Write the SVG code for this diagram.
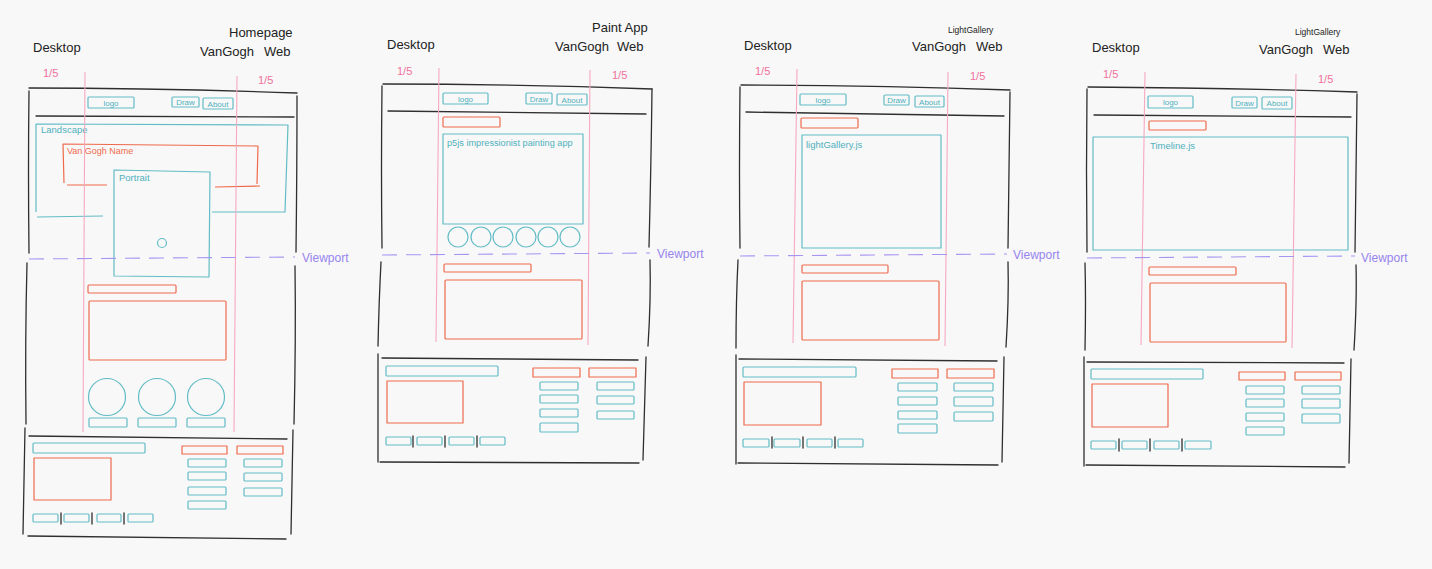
<svg xmlns="http://www.w3.org/2000/svg" width="1432" height="569" viewBox="0 0 1432 569">
<style>
.k{stroke:#2f2f2f;fill:none;stroke-width:1.3;stroke-linecap:round}
.t{stroke:#62bcc6;fill:none;stroke-width:1.2;stroke-linejoin:round}
.r{stroke:#ef6a4c;fill:none;stroke-width:1.2;stroke-linejoin:round}
.p{stroke:#f6a9c0;fill:none;stroke-width:1.1}
.v{stroke:#a596f2;fill:none;stroke-width:1.1;stroke-dasharray:15 9}
text{font-family:"Liberation Sans","DejaVu Sans",sans-serif}
.hd{font-size:13px;fill:#222}
.hs{font-size:8.5px;fill:#222}
.fr{font-size:11px;fill:#f0709c}
.vp{font-size:12px;fill:#9684ee}
.tt{font-size:8px;fill:#4fb0bc}
.tl{font-size:9.5px;fill:#4fb0bc}
.tp{font-size:9.2px;fill:#4fb0bc}
.rl{font-size:9px;fill:#ef6a4c}
</style>
<rect x="0" y="0" width="1432" height="569" fill="#f8f8f8"/>

<!-- ================= PANEL 1: Homepage ================= -->
<g id="p1-labels">
<text class="hd" x="33" y="52">Desktop</text>
<text class="hd" x="229" y="37">Homepage</text>
<text class="hd" x="200" y="56">VanGogh</text>
<text class="hd" x="264" y="56">Web</text>
<text class="fr" x="43" y="77">1/5</text>
<text class="fr" x="258" y="84">1/5</text>
</g>
<g id="p1-frame">
<path class="k" d="M29,88 Q160,88 297,93"/>
<path class="k" d="M29,91 Q28,170 29,253"/>
<path class="k" d="M297,96 Q297,170 296,252"/>
<path class="k" d="M36,116 L294,117"/>
<path class="k" d="M27,263 Q25,340 26,424"/>
<path class="k" d="M295,266 Q296,340 294,424"/>
</g>
<g id="p1-nav">
<rect class="t" x="88" y="97" width="46" height="11" rx="1"/>
<text class="tt" x="111" y="105.5" text-anchor="middle">logo</text>
<rect class="t" x="172" y="97" width="27" height="10" rx="1"/>
<text class="tt" x="185.5" y="105" text-anchor="middle">Draw</text>
<rect class="t" x="203" y="98" width="30" height="11" rx="1"/>
<text class="tt" x="218" y="106.5" text-anchor="middle">About</text>
</g>
<g id="p1-landscape">
<path class="t" d="M103,216 L37,217 M36,212 L36,124 L288,125 L285,212 L212,212"/>
<text class="tl" x="41" y="133">Landscape</text>
</g>
<g id="p1-name">
<path class="r" d="M107,185 L67,185 M64,183 L63,144 L258,146 L257,184 M215,187 L260,186"/>
<text class="rl" x="67" y="154">Van Gogh Name</text>
</g>
<g id="p1-portrait">
<path class="t" d="M114,170 L210,172 L209,277 L114,276 Z"/>
<text class="tl" x="119" y="181">Portrait</text>
<circle class="t" cx="162" cy="243" r="4.5"/>
</g>
<g id="p1-content">
<rect class="r" x="88" y="285" width="88" height="8" rx="1"/>
<rect class="r" x="89" y="301" width="137" height="59" rx="1"/>
<circle class="t" cx="107" cy="397" r="18.5"/>
<circle class="t" cx="157" cy="397" r="18.5"/>
<circle class="t" cx="206" cy="397" r="18.5"/>
<rect class="t" x="89" y="418" width="38" height="9" rx="1"/>
<rect class="t" x="138" y="418" width="38" height="9" rx="1"/>
<rect class="t" x="187" y="418" width="38" height="9" rx="1"/>
</g>
<g id="p1-footer">
<path class="k" d="M29,436 L287,439 M25,428 L23,534 M293,430 L291,534 M28,536 L286,539"/>
<rect class="t" x="33" y="443" width="112" height="10" rx="1"/>
<rect class="r" x="34" y="458" width="77" height="42"/>
<rect class="r" x="182" y="446" width="45" height="8"/>
<rect class="r" x="237" y="446" width="46" height="8"/>
<rect class="t" x="188" y="459" width="38" height="8" rx="1"/>
<rect class="t" x="188" y="472" width="38" height="8" rx="1"/>
<rect class="t" x="188" y="487" width="38" height="8" rx="1"/>
<rect class="t" x="188" y="501" width="38" height="8" rx="1"/>
<rect class="t" x="244" y="459" width="38" height="8" rx="1"/>
<rect class="t" x="244" y="473" width="38" height="8" rx="1"/>
<rect class="t" x="244" y="488" width="38" height="8" rx="1"/>
<rect class="t" x="33" y="514" width="25" height="8" rx="1"/>
<rect class="t" x="64" y="514" width="25" height="8" rx="1"/>
<rect class="t" x="97" y="514" width="24" height="8" rx="1"/>
<rect class="t" x="128" y="514" width="25" height="8" rx="1"/>
<path class="k" d="M61,513 L61,524 M92,513 L92,524 M124,513 L124,524"/>
</g>

<!-- ================= PANEL 2: Paint App ================= -->
<g id="p2-labels">
<text class="hd" x="387" y="49">Desktop</text>
<text class="hd" x="592" y="32">Paint App</text>
<text class="hd" x="555" y="51">VanGogh</text>
<text class="hd" x="617" y="51">Web</text>
<text class="fr" x="397" y="75">1/5</text>
<text class="fr" x="612" y="79">1/5</text>
</g>
<g id="p2-frame">
<path class="k" d="M383,84 Q520,84 652,89"/>
<path class="k" d="M382,86 Q381,170 382,248"/>
<path class="k" d="M652,89 Q651,170 649,247"/>
<path class="k" d="M388,111 L646,114"/>
<path class="k" d="M381,262 Q379,300 378,346"/>
<path class="k" d="M650,260 Q651,300 648,346"/>
</g>
<g id="p2-nav">
<rect class="t" x="443" y="93" width="45" height="11" rx="1"/>
<text class="tt" x="465.5" y="101.5" text-anchor="middle">logo</text>
<rect class="t" x="526" y="93" width="26" height="11" rx="1"/>
<text class="tt" x="539" y="101.5" text-anchor="middle">Draw</text>
<rect class="t" x="557" y="94" width="30" height="11" rx="1"/>
<text class="tt" x="572" y="102.5" text-anchor="middle">About</text>
</g>
<g id="p2-app">
<rect class="r" x="443" y="117" width="57" height="10" rx="1"/>
<rect class="t" x="443" y="134" width="140" height="90"/>
<text class="tp" x="447" y="146">p5js impressionist painting app</text>
<circle class="t" cx="458" cy="237" r="10"/>
<circle class="t" cx="481" cy="237" r="10"/>
<circle class="t" cx="503" cy="237" r="10"/>
<circle class="t" cx="526" cy="237" r="10"/>
<circle class="t" cx="548" cy="237" r="10"/>
<circle class="t" cx="570" cy="237" r="10"/>
</g>
<g id="p2-content">
<rect class="r" x="444" y="264" width="87" height="8" rx="1"/>
<rect class="r" x="445" y="280" width="137" height="59" rx="1"/>
</g>
<g id="p2-footer">
<path class="k" d="M382,358 L638,360 M378,354 L378,462 M646,357 L643,460 M380,462 L639,463"/>
<rect class="t" x="386" y="366" width="112" height="10" rx="1"/>
<rect class="r" x="387" y="381" width="76" height="42"/>
<rect class="r" x="533" y="368" width="47" height="9"/>
<rect class="r" x="589" y="368" width="47" height="9"/>
<rect class="t" x="540" y="382" width="38" height="8" rx="1"/>
<rect class="t" x="540" y="395" width="38" height="8" rx="1"/>
<rect class="t" x="540" y="409" width="38" height="8" rx="1"/>
<rect class="t" x="540" y="423" width="38" height="9" rx="1"/>
<rect class="t" x="597" y="382" width="37" height="8" rx="1"/>
<rect class="t" x="597" y="396" width="37" height="8" rx="1"/>
<rect class="t" x="597" y="411" width="37" height="8" rx="1"/>
<rect class="t" x="386" y="437" width="25" height="8" rx="1"/>
<rect class="t" x="417" y="437" width="25" height="8" rx="1"/>
<rect class="t" x="449" y="437" width="25" height="8" rx="1"/>
<rect class="t" x="480" y="437" width="25" height="8" rx="1"/>
<path class="k" d="M413,436 L413,447 M445,436 L445,447 M477,436 L477,447"/>
</g>

<!-- ================= PANEL 3: LightGallery ================= -->
<g id="p3-labels">
<text class="hd" x="744" y="50">Desktop</text>
<text class="hs" x="948" y="33">LightGallery</text>
<text class="hd" x="912" y="51">VanGogh</text>
<text class="hd" x="976" y="51">Web</text>
<text class="fr" x="755" y="75">1/5</text>
<text class="fr" x="970" y="80">1/5</text>
</g>
<g id="p3-frame">
<path class="k" d="M741,85 Q880,85 1010,90"/>
<path class="k" d="M740,87 Q739,170 740,248"/>
<path class="k" d="M1010,92 Q1009,170 1008,248"/>
<path class="k" d="M746,112 L1004,116"/>
<path class="k" d="M738,260 Q736,300 736,348"/>
<path class="k" d="M1008,262 Q1009,300 1006,347"/>
</g>
<g id="p3-nav">
<rect class="t" x="800" y="94" width="46" height="11" rx="1"/>
<text class="tt" x="823" y="102.5" text-anchor="middle">logo</text>
<rect class="t" x="884" y="95" width="25" height="10" rx="1"/>
<text class="tt" x="896.5" y="103" text-anchor="middle">Draw</text>
<rect class="t" x="915" y="96" width="29" height="11" rx="1"/>
<text class="tt" x="929.5" y="104.5" text-anchor="middle">About</text>
</g>
<g id="p3-gallery">
<rect class="r" x="801" y="118" width="57" height="10" rx="1"/>
<rect class="t" x="802" y="135" width="139" height="113"/>
<text class="tl" x="806" y="148">lightGallery.js</text>
</g>
<g id="p3-content">
<rect class="r" x="802" y="265" width="86" height="8" rx="1"/>
<rect class="r" x="802" y="281" width="137" height="59" rx="1"/>
</g>
<g id="p3-footer">
<path class="k" d="M739,359 L997,361 M736,355 L736,464 M1004,357 L1002,462 M738,463 L998,465"/>
<rect class="t" x="743" y="367" width="113" height="10" rx="1"/>
<rect class="r" x="744" y="382" width="77" height="43"/>
<rect class="r" x="892" y="369" width="46" height="9"/>
<rect class="r" x="947" y="369" width="47" height="9"/>
<rect class="t" x="898" y="383" width="39" height="8" rx="1"/>
<rect class="t" x="898" y="397" width="39" height="8" rx="1"/>
<rect class="t" x="898" y="411" width="39" height="8" rx="1"/>
<rect class="t" x="898" y="424" width="39" height="9" rx="1"/>
<rect class="t" x="954" y="383" width="39" height="8" rx="1"/>
<rect class="t" x="954" y="397" width="39" height="9" rx="1"/>
<rect class="t" x="954" y="412" width="39" height="9" rx="1"/>
<rect class="t" x="743" y="439" width="26" height="8" rx="1"/>
<rect class="t" x="774" y="439" width="26" height="8" rx="1"/>
<rect class="t" x="807" y="439" width="25" height="8" rx="1"/>
<rect class="t" x="838" y="439" width="25" height="8" rx="1"/>
<path class="k" d="M772,437 L772,448 M803,437 L803,448 M835,437 L835,448"/>
</g>

<!-- ================= PANEL 4: Timeline ================= -->
<g id="p4-labels">
<text class="hd" x="1092" y="52">Desktop</text>
<text class="hs" x="1295" y="35">LightGallery</text>
<text class="hd" x="1259" y="54">VanGogh</text>
<text class="hd" x="1323" y="54">Web</text>
<text class="fr" x="1103" y="78">1/5</text>
<text class="fr" x="1318" y="83">1/5</text>
</g>
<g id="p4-frame">
<path class="k" d="M1088,87 Q1230,88 1357,92"/>
<path class="k" d="M1087,89 Q1086,170 1087,252"/>
<path class="k" d="M1357,94 Q1356,170 1355,252"/>
<path class="k" d="M1094,115 L1351,117"/>
<path class="k" d="M1085,263 Q1086,300 1085,350"/>
<path class="k" d="M1356,265 Q1357,300 1354,350"/>
</g>
<g id="p4-nav">
<rect class="t" x="1148" y="96" width="45" height="12" rx="1"/>
<text class="tt" x="1170.5" y="105" text-anchor="middle">logo</text>
<rect class="t" x="1232" y="97" width="25" height="11" rx="1"/>
<text class="tt" x="1244.5" y="105.5" text-anchor="middle">Draw</text>
<rect class="t" x="1262" y="97" width="30" height="12" rx="1"/>
<text class="tt" x="1277" y="106" text-anchor="middle">About</text>
</g>
<g id="p4-timeline">
<rect class="r" x="1149" y="121" width="57" height="9" rx="1"/>
<rect class="t" x="1093" y="137" width="255" height="113"/>
<text class="tl" x="1150" y="149">Timeline.js</text>
</g>
<g id="p4-content">
<rect class="r" x="1149" y="267" width="87" height="8" rx="1"/>
<rect class="r" x="1150" y="283" width="136" height="59" rx="1"/>
</g>
<g id="p4-footer">
<path class="k" d="M1087,362 L1344,363 M1084,357 L1084,466 M1351,359 L1349,463 M1086,465 L1345,467"/>
<rect class="t" x="1091" y="369" width="112" height="10" rx="1"/>
<rect class="r" x="1092" y="384" width="76" height="43"/>
<rect class="r" x="1239" y="372" width="46" height="8"/>
<rect class="r" x="1295" y="372" width="46" height="8"/>
<rect class="t" x="1246" y="386" width="38" height="8" rx="1"/>
<rect class="t" x="1246" y="399" width="38" height="8" rx="1"/>
<rect class="t" x="1246" y="413" width="38" height="8" rx="1"/>
<rect class="t" x="1246" y="427" width="38" height="8" rx="1"/>
<rect class="t" x="1302" y="386" width="38" height="8" rx="1"/>
<rect class="t" x="1302" y="399" width="38" height="9" rx="1"/>
<rect class="t" x="1302" y="414" width="38" height="9" rx="1"/>
<rect class="t" x="1091" y="441" width="25" height="8" rx="1"/>
<rect class="t" x="1122" y="441" width="25" height="8" rx="1"/>
<rect class="t" x="1154" y="441" width="25" height="8" rx="1"/>
<rect class="t" x="1185" y="441" width="26" height="8" rx="1"/>
<path class="k" d="M1119,439 L1119,451 M1150,439 L1150,451 M1182,439 L1182,451"/>
</g>

<!-- ================= Guides (column lines and viewport folds) ================= -->
<g id="connectors">
<path class="p" d="M85,72 L83,432"/>
<path class="p" d="M237,76 L234,432"/>
<path class="p" d="M439,68 L436,342"/>
<path class="p" d="M590,70 L588,345"/>
<path class="p" d="M797,69 L793,343"/>
<path class="p" d="M948,72 L945,346"/>
<path class="p" d="M1145,72 L1141,345"/>
<path class="p" d="M1296,74 L1292,348"/>
<path class="v" d="M29,259 L295,257"/>
<path class="v" d="M382,255 L650,253"/>
<path class="v" d="M740,256 L1007,254"/>
<path class="v" d="M1087,258 L1355,256"/>
<text class="vp" x="302" y="262">Viewport</text>
<text class="vp" x="657" y="258">Viewport</text>
<text class="vp" x="1013" y="259">Viewport</text>
<text class="vp" x="1361" y="262">Viewport</text>
</g>
</svg>
